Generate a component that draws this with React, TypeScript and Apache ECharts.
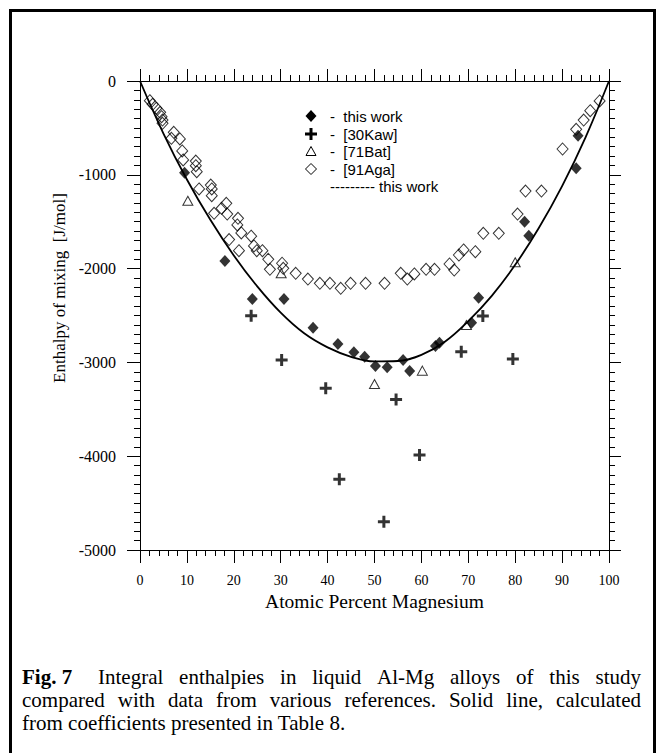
import React, { useEffect, useRef } from "react";
import * as echarts from "echarts";

// ---- data ----
const curveX = [0, 5, 10, 15, 20, 25, 30, 35, 40, 45, 50, 55, 60, 65, 70, 75, 80, 85, 90, 95, 100];
const curveY = [0, -560, -1050, -1480, -1860, -2190, -2470, -2690, -2840, -2940, -2990, -2985, -2920, -2780, -2560, -2290, -1960, -1570, -1120, -600, 0];

const thisWork: [number, number][] = [
  [9.5, -978], [18.1, -1919], [23.95, -2324], [30.7, -2324], [36.9, -2630], [42.2, -2804],
  [45.6, -2892], [47.9, -2939], [50.2, -3038], [52.7, -3052], [56.1, -2974], [57.5, -3091],
  [63.0, -2825], [63.85, -2790], [70.7, -2577], [72.2, -2310], [82.0, -1500], [82.9, -1649],
  [93.0, -931], [93.4, -583],
];

const kaw30: [number, number][] = [
  [23.7, -2502], [30.2, -2974], [39.6, -3276], [42.5, -4246], [52.0, -4698], [54.6, -3395],
  [59.6, -3987], [68.5, -2886], [73.1, -2505], [79.5, -2963],
];

const bat71: [number, number][] = [
  [10.2, -1276], [30.1, -2050], [50.0, -3230], [60.2, -3088], [69.6, -2601], [80.0, -1933],
];

const aga91: [number, number][] = [
  [2.1, -210], [2.7, -248], [3.5, -290], [4.3, -334], [4.6, -381], [4.8, -416], [4.8, -451],
  [7.2, -547], [6.7, -611], [8.5, -618], [9.0, -746], [9.2, -842], [11.9, -853], [11.9, -903],
  [12.1, -967], [12.6, -1151], [15.1, -1109], [15.3, -1151], [15.3, -1223], [15.8, -1410],
  [18.4, -1304], [17.4, -1357], [18.6, -1418], [20.9, -1464], [20.75, -1535], [21.6, -1620],
  [23.7, -1655], [19.0, -1690], [21.1, -1809], [24.3, -1759], [24.9, -1809], [26.1, -1809],
  [27.35, -1901], [27.7, -2007], [30.3, -1943], [30.55, -1997], [33.2, -2050], [35.8, -2111],
  [38.35, -2157], [40.5, -2157], [42.8, -2210], [44.9, -2157], [48.1, -2157], [52.15, -2157],
  [55.6, -2050], [57.0, -2111], [58.5, -2057], [61.0, -2007], [62.8, -2007], [66.0, -1951],
  [67.0, -2015], [68.0, -1855], [69.0, -1801], [71.5, -1820], [73.2, -1624], [76.5, -1624],
  [80.5, -1418], [82.2, -1173], [85.6, -1173], [90.1, -725], [93.0, -515], [94.6, -416],
  [96.0, -317], [98.0, -213],
];

const legendLabels = ["-  this work", "-  [30Kaw]", "-  [71Bat]", "-  [91Aga]"];
const legendLineDashes = "---------";
const legendLineLabel = "this work";

const xTitle = "Atomic Percent Magnesium";
const yTitle = "Enthalpy of mixing  [J/mol]";

const captionBold = "Fig. 7";
const captionLine1 = "Integral enthalpies in liquid Al-Mg alloys of this study";
const captionLine2 = "compared with data from various references. Solid line, calculated";
const captionLine3 = "from coefficients presented in Table 8.";

const PLUS = "path://M4.5,0h3v4.5h4.5v3h-4.5v4.5h-3v-4.5h-4.5v-3h4.5z";
const SERIF = "'Liberation Serif', 'Times New Roman', serif";
const SANS = "'Liberation Sans', Arial, sans-serif";

function measure(text: string, font: string): number {
  const ctx = document.createElement("canvas").getContext("2d");
  if (!ctx) return text.length * 8;
  ctx.font = font;
  return ctx.measureText(text).width;
}

function justify(
  tokens: { t: string; bold?: boolean }[],
  left: number,
  right: number,
  y: number,
  size: number,
  firstExtra: number
) {
  const widths = tokens.map((k) =>
    measure(k.t, `${k.bold ? "bold " : ""}${size}px ${SERIF}`)
  );
  const total = widths.reduce((a, b) => a + b, 0);
  const gaps = tokens.length - 1;
  const gap = (right - left - total - firstExtra) / gaps;
  let x = left;
  return tokens.map((k, i) => {
    const el = {
      type: "text",
      x,
      y,
      silent: true,
      style: {
        text: k.t,
        fontSize: size,
        fontFamily: SERIF,
        fontWeight: k.bold ? "bold" : "normal",
        fill: "#000",
        align: "left",
        verticalAlign: "middle",
      },
    };
    x += widths[i] + gap + (i === 0 ? firstExtra : 0);
    return el;
  });
}

const axisCommon = {
  axisLine: { show: true, onZero: false, lineStyle: { color: "#000", width: 1 } },
  splitLine: { show: false },
};

export default function App() {
  const ref = useRef<HTMLDivElement>(null);
  useEffect(() => {
    if (!ref.current) return;
    const chart = echarts.init(ref.current, undefined, { renderer: "svg" });
    const capSize = 21;
    const line1 = justify(
      [{ t: captionBold, bold: true }, ...captionLine1.split(" ").map((t) => ({ t }))],
      22, 641, 677, capSize, 10
    );
    const line2 = justify(captionLine2.split(" ").map((t) => ({ t })), 22, 641, 700, capSize, 0);

    const lx = 311;
    const rows = [116, 134, 151.5, 169, 186];
    const legendGraphics: any[] = [
      {
        type: "polygon",
        shape: { points: [[lx, rows[0] - 6], [lx + 5.5, rows[0]], [lx, rows[0] + 6], [lx - 5.5, rows[0]]] },
        style: { fill: "#000" },
      },
      {
        type: "polygon",
        shape: {
          points: [
            [lx - 1.5, rows[1] - 6], [lx + 1.5, rows[1] - 6], [lx + 1.5, rows[1] - 1.5], [lx + 6, rows[1] - 1.5],
            [lx + 6, rows[1] + 1.5], [lx + 1.5, rows[1] + 1.5], [lx + 1.5, rows[1] + 6], [lx - 1.5, rows[1] + 6],
            [lx - 1.5, rows[1] + 1.5], [lx - 6, rows[1] + 1.5], [lx - 6, rows[1] - 1.5], [lx - 1.5, rows[1] - 1.5],
          ],
        },
        style: { fill: "#000" },
      },
      {
        type: "polygon",
        shape: { points: [[lx, rows[2] - 5], [lx + 5, rows[2] + 4], [lx - 5, rows[2] + 4]] },
        style: { fill: "none", stroke: "#000", lineWidth: 1 },
      },
      {
        type: "polygon",
        shape: { points: [[lx, rows[3] - 5.5], [lx + 5.5, rows[3]], [lx, rows[3] + 5.5], [lx - 5.5, rows[3]]] },
        style: { fill: "none", stroke: "#000", lineWidth: 1 },
      },
      ...legendLabels.map((t, i) => ({
        type: "text",
        x: 330,
        y: rows[i],
        style: { text: t, fontSize: 15, fontFamily: SANS, fill: "#000", verticalAlign: "middle", align: "left" },
      })),
      {
        type: "text",
        x: 330,
        y: rows[4],
        style: { text: legendLineDashes, fontSize: 15, fontFamily: SANS, fill: "#000", verticalAlign: "middle", align: "left" },
      },
      {
        type: "text",
        x: 379,
        y: rows[4],
        style: { text: legendLineLabel, fontSize: 15, fontFamily: SANS, fill: "#000", verticalAlign: "middle", align: "left" },
      },
    ];

    chart.setOption({
      animation: false,
      backgroundColor: "#fff",
      grid: { left: 140, top: 81, right: 53, bottom: 203, containLabel: false },
      xAxis: [
        {
          type: "value",
          min: 0,
          max: 100,
          interval: 10,
          position: "bottom",
          ...axisCommon,
          axisTick: { show: true, inside: false, length: 13, lineStyle: { color: "#000", width: 1 } },
          minorTick: { show: true, splitNumber: 5, length: 6, lineStyle: { color: "#000", width: 1 } },
          axisLabel: { show: true, margin: 23, color: "#000", fontFamily: SERIF, fontSize: 14 },
          name: xTitle,
          nameLocation: "middle",
          nameGap: 38,
          nameTextStyle: { color: "#000", fontFamily: SERIF, fontSize: 19.5 },
        },
        {
          type: "value",
          min: 0,
          max: 100,
          interval: 10,
          position: "top",
          ...axisCommon,
          axisTick: { show: true, inside: false, length: 12, lineStyle: { color: "#000", width: 1 } },
          minorTick: { show: true, splitNumber: 5, length: 6, lineStyle: { color: "#000", width: 1 } },
          axisLabel: { show: false },
        },
      ],
      yAxis: [
        {
          type: "value",
          min: -5000,
          max: 0,
          interval: 1000,
          position: "left",
          ...axisCommon,
          axisTick: { show: true, inside: false, length: 13, lineStyle: { color: "#000", width: 1 } },
          minorTick: { show: true, splitNumber: 10, length: 6, lineStyle: { color: "#000", width: 1 } },
          axisLabel: {
            show: true,
            margin: 24,
            color: "#000",
            fontFamily: SERIF,
            fontSize: 16,
            formatter: (v: number) => String(v),
          },
        },
        {
          type: "value",
          min: -5000,
          max: 0,
          interval: 1000,
          position: "right",
          ...axisCommon,
          axisTick: { show: true, inside: false, length: 12, lineStyle: { color: "#000", width: 1 } },
          minorTick: { show: true, splitNumber: 10, length: 6, lineStyle: { color: "#000", width: 1 } },
          axisLabel: { show: false },
        },
      ],
      series: [
        {
          name: "calculated",
          type: "line",
          xAxisIndex: 0,
          yAxisIndex: 0,
          data: curveX.map((x, i) => [x, curveY[i]]),
          smooth: 0.4,
          showSymbol: false,
          symbol: "none",
          lineStyle: { color: "#000", width: 1.8 },
          silent: true,
          z: 1,
        },
        {
          name: "[91Aga]",
          type: "scatter",
          data: aga91,
          symbol: "diamond",
          symbolSize: [11, 12],
          itemStyle: { color: "rgba(0,0,0,0)", borderColor: "#000", borderWidth: 1 },
          z: 2,
        },
        {
          name: "[71Bat]",
          type: "scatter",
          data: bat71,
          symbol: "triangle",
          symbolSize: [10, 9],
          itemStyle: { color: "rgba(0,0,0,0)", borderColor: "#000", borderWidth: 1 },
          z: 3,
        },
        {
          name: "[30Kaw]",
          type: "scatter",
          data: kaw30,
          symbol: PLUS,
          symbolSize: 12,
          itemStyle: { color: "#000" },
          z: 4,
        },
        {
          name: "this work",
          type: "scatter",
          data: thisWork,
          symbol: "diamond",
          symbolSize: [11, 12],
          itemStyle: { color: "#000" },
          z: 5,
        },
      ],
      graphic: [
        {
          type: "rect",
          shape: { x: 10.5, y: 10.5, width: 644, height: 800 },
          style: { fill: "none", stroke: "#000", lineWidth: 3 },
          silent: true,
        },
        {
          type: "text",
          x: 59,
          y: 288,
          rotation: Math.PI / 2,
          style: {
            text: yTitle,
            fontSize: 17,
            fontFamily: SERIF,
            fill: "#000",
            align: "center",
            verticalAlign: "middle",
          },
        },
        ...legendGraphics,
        ...line1,
        ...line2,
        {
          type: "text",
          x: 22,
          y: 723,
          style: {
            text: captionLine3,
            fontSize: capSize,
            fontFamily: SERIF,
            fill: "#000",
            align: "left",
            verticalAlign: "middle",
          },
        },
      ],
    });
    return () => chart.dispose();
  }, []);
  return (
    <div
      ref={ref}
      style={{ position: "absolute", left: 0, top: 0, width: 662, height: 753, background: "#fff" }}
    />
  );
}
